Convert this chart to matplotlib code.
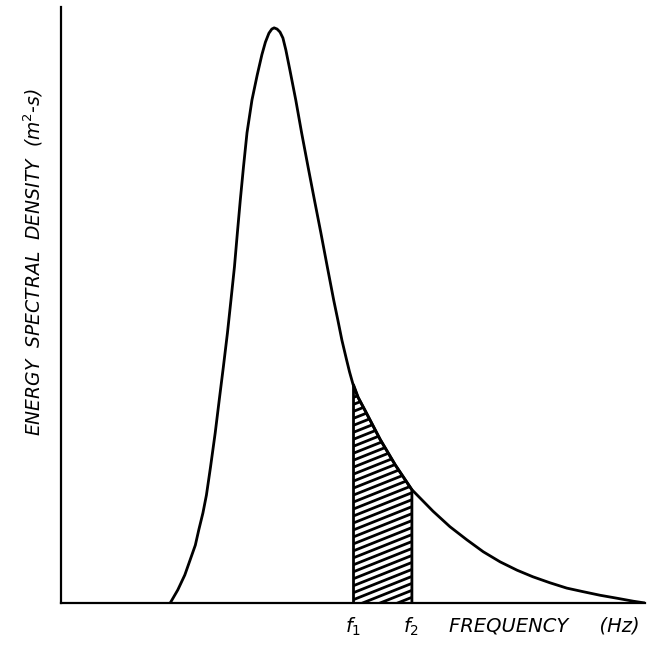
import numpy as np
import matplotlib
matplotlib.use("Agg")
import matplotlib.pyplot as plt

# spectrum as (frequency, density) pairs, arbitrary units
freq = [1.87, 2.00, 2.12, 2.21, 2.30, 2.36, 2.43, 2.49, 2.56, 2.64,
        2.71, 2.78, 2.85, 2.91, 2.97, 3.02, 3.07, 3.125, 3.185, 3.27,
        3.36, 3.44, 3.50, 3.56, 3.61, 3.65, 3.70, 3.75, 3.80, 3.85,
        3.92, 4.02, 4.12, 4.23, 4.34, 4.45, 4.56, 4.67, 4.74, 4.81,
        4.89, 4.94, 5.00, 5.08, 5.21, 5.46, 5.72, 6.00, 6.37, 6.66,
        6.95, 7.23, 7.52, 7.81, 8.08, 8.37, 8.66, 8.94, 9.23, 9.52,
        9.80, 10.0]
density = [0.00, 0.22, 0.47, 0.72, 0.97, 1.23, 1.51, 1.81, 2.28, 2.85,
           3.41, 3.96, 4.53, 5.08, 5.64, 6.21, 6.76, 7.32, 7.89, 8.44,
           8.86, 9.20, 9.41, 9.56, 9.63, 9.65, 9.63, 9.58, 9.48, 9.28,
           8.94, 8.44, 7.89, 7.32, 6.76, 6.21, 5.64, 5.08, 4.75, 4.41,
           4.08, 3.88, 3.67, 3.46, 3.22, 2.75, 2.32, 1.91, 1.54, 1.28,
           1.06, 0.86, 0.69, 0.55, 0.44, 0.34, 0.25, 0.19, 0.13, 0.08,
           0.03, 0.00]

# frequency band that gets shaded
f1 = 5.0
f2 = 6.0
band_labels = ["$f_1$", "$f_2$"]

freq = np.array(freq)
density = np.array(density)

fig = plt.figure(figsize=(6.55, 6.47), dpi=100)
ax = fig.add_axes([61 / 655, 44 / 647, 584 / 655, 596 / 647])
ax.set_xlim(0, 10)
ax.set_ylim(0, 10)

# only the two axis lines, no ticks
for side in ["top", "right"]:
    ax.spines[side].set_visible(False)
for side in ["left", "bottom"]:
    ax.spines[side].set_linewidth(1.6)
ax.set_xticks([])
ax.set_yticks([])

ax.plot(freq, density, color="black", lw=2.0, solid_capstyle="round",
        solid_joinstyle="round", zorder=3)

# band between f1 and f2, outlined
band = (freq >= f1) & (freq <= f2)
patch = ax.fill_between(freq[band], density[band], 0, facecolor="white",
                        edgecolor="black", lw=2.0, zorder=2)

# diagonal hatching clipped to the band
slope = 0.39
step = 0.117
xs = np.array([f1 - 0.2, f2 + 0.2])
for c in np.arange(-1.0, 4.5, step):
    ln, = ax.plot(xs, c + slope * (xs - f1), color="black", lw=2.0,
                  solid_capstyle="butt", zorder=2.5)
    ln.set_clip_path(patch.get_paths()[0], ax.transData)

# f1 / f2 markers under the axis
for fx, lab in zip([f1, f2], band_labels):
    ax.text(fx, -0.22, lab, ha="center", va="top", fontsize=14,
            transform=ax.transData, clip_on=False)

fig.text(449 / 655, (647 - 631) / 647, "FREQUENCY     (Hz)", ha="left",
         va="baseline", fontsize=14, style="italic")
fig.text(33 / 655, 1 - 262 / 647, "ENERGY  SPECTRAL  DENSITY  (m$^{2}$-s)",
         ha="center", va="center", rotation=90, fontsize=13.5, style="italic")

fig.savefig("out.png", dpi=100)
